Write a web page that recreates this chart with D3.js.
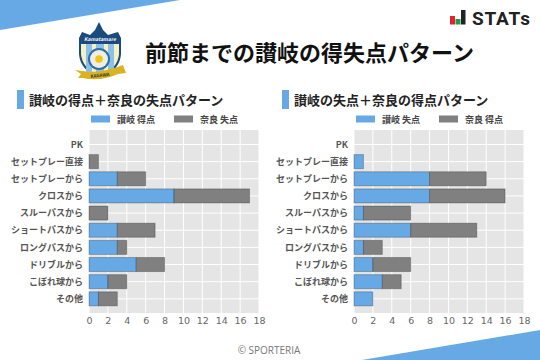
<!DOCTYPE html>
<html><head><meta charset="utf-8">
<script src="https://cdn.jsdelivr.net/npm/d3@7"></script>
<style>html,body{margin:0;padding:0;background:#fff}svg{display:block}text{font-family:"Noto Sans CJK JP","Noto Sans",sans-serif}</style>
</head><body><svg id="c" width="540" height="360"></svg>
<script>
const categories = ["PK","セットプレー直接","セットプレーから","クロスから","スルーパスから","ショートパスから","ロングパスから","ドリブルから","こぼれ球から","その他"];
const leftTitle = "讃岐の得点＋奈良の失点パターン";
const leftNames = ["讃岐 得点","奈良 失点"];
const leftBlue = [0,0,3,9,0,3,3,5,2,1];
const leftGray = [0,1,3,8,2,4,1,3,2,2];
const rightTitle = "讃岐の失点＋奈良の得点パターン";
const rightNames = ["讃岐 失点","奈良 得点"];
const rightBlue = [0,1,8,8,1,6,1,2,3,2];
const rightGray = [0,0,6,8,5,7,2,4,2,0];
const xTicks = [0,2,4,6,8,10,12,14,16,18];
const BLUE="#66a9e4", GRAY="#808080";
const svg=d3.select("#c");
svg.append("path").attr("d","M0,0L180,0L0,30Z").attr("fill",BLUE);
svg.append("path").attr("d","M540,330L540,360L362,360Z").attr("fill",BLUE);
svg.append("text").attr("x",145).attr("y",61).attr("font-size",22).attr("font-weight",700).attr("fill","#111").text("前節までの讃岐の得失点パターン");
// STATs logo
[[450,16,5,"#e0242c"],[455.5,19,5,"#1e9e4a"],[461,10,4.5,"#222"]].forEach(d=>svg.append("rect").attr("x",d[0]).attr("y",d[1]).attr("width",d[2]).attr("height",24.5-d[1]).attr("fill",d[3]));
svg.append("text").attr("x",472).attr("y",24.5).attr("font-size",19).attr("font-weight",700).attr("fill","#222").style("font-family","Roboto,sans-serif").attr("textLength",58).text("STATs");
// club crest
const g=svg.append("g");
g.append("path").attr("d","M79,38L82,32L90,35L95,30L99,22L103,30L108,35L118,32L121,38L121,54Q120,70 100,79Q80,70 79,54Z").attr("fill","#1b4a7c");
g.append("path").attr("d","M81,44L119,44L119,54Q118,68 100,77Q82,68 81,54Z").attr("fill","#f5f1c4");
[[86,6],[96,8],[108,6]].forEach(d=>g.append("rect").attr("x",d[0]).attr("y",44).attr("width",d[1]).attr("height",31).attr("fill","#8cc0e6"));
g.append("text").attr("x",100).attr("y",41).attr("text-anchor","middle").attr("font-size",5).attr("font-style","italic").attr("font-weight",700).attr("fill","#fff").text("Kamatamare");
g.append("circle").attr("cx",99).attr("cy",59).attr("r",11).attr("fill","#2e6ea6");
g.append("circle").attr("cx",99).attr("cy",59).attr("r",9).attr("fill","#efeee0");
g.append("circle").attr("cx",99).attr("cy",59).attr("r",3.8).attr("fill","#f2c318");
g.append("path").attr("d","M75,70L90,72Q105,72 123,65L126,73L118,74L110,77Q95,81 83,78L78,78L81,74Z").attr("fill","#d9b321");
g.append("text").attr("x",100).attr("y",77).attr("text-anchor","middle").attr("font-size",4.5).attr("font-weight",700).attr("fill","#333").attr("transform","rotate(-6 100 75)").text("KAGAWA");

function panel(x0,barX,title,names,blue,gray){
  const x=d3.scaleLinear().domain([0,18]).range([x0,x0+170]);
  const y=d3.scaleBand().domain(categories).range([135.9,307.4]).paddingInner(0.18).paddingOuter(0.09);
  const top=130,bottom=313;
  svg.append("rect").attr("x",barX).attr("y",90).attr("width",7).attr("height",19).attr("fill",BLUE);
  svg.append("text").attr("x",barX+12).attr("y",105).attr("font-size",13).attr("font-weight",700).attr("fill","#222").text(title);
  [0,1].forEach(i=>{
    const lx=x0+2+i*83;
    svg.append("rect").attr("x",lx).attr("y",115.5).attr("width",19).attr("height",7).attr("fill",i?GRAY:BLUE);
    svg.append("text").attr("x",lx+26).attr("y",123).attr("font-size",9).attr("font-weight",700).attr("fill","#444").text(names[i]);
  });
  svg.append("rect").attr("x",x0).attr("y",top).attr("width",170).attr("height",bottom-top).attr("fill","#e5e5e5");
  const gg=svg.append("g");
  gg.selectAll("line.v").data(xTicks).join("line").attr("x1",d=>x(d)).attr("x2",d=>x(d)).attr("y1",top).attr("y2",bottom).attr("stroke","#fff").attr("stroke-width",1);
  gg.selectAll("line.h").data(categories).join("line").attr("class","h").attr("x1",x0).attr("x2",x0+170).attr("y1",d=>y(d)+y.bandwidth()/2).attr("y2",d=>y(d)+y.bandwidth()/2).attr("stroke","#fff").attr("stroke-width",1);
  const st=(s,c)=>s.attr("fill",c).attr("stroke","#000").attr("stroke-opacity",.25).attr("stroke-width",1);
  categories.forEach((c,i)=>{
    if(blue[i]>0) st(svg.append("rect").attr("x",x(0)).attr("y",y(c)).attr("width",x(blue[i])-x(0)).attr("height",y.bandwidth()),BLUE);
    if(gray[i]>0) st(svg.append("rect").attr("x",x(blue[i])).attr("y",y(c)).attr("width",x(blue[i]+gray[i])-x(blue[i])).attr("height",y.bandwidth()),GRAY);
    svg.append("text").attr("x",x0-6).attr("y",y(c)+y.bandwidth()/2+3.2).attr("text-anchor","end").attr("font-size",9).attr("font-weight",700).attr("fill","#555").text(c);
  });
  const ax=svg.append("g").attr("transform",`translate(0,${bottom})`).call(d3.axisBottom(x).tickValues(xTicks).tickSize(0).tickPadding(4));
  ax.select(".domain").remove();
  ax.selectAll("text").attr("font-size",9.5).attr("fill","#666").style("font-family","'DejaVu Sans',sans-serif");
}
panel(89,17,leftTitle,leftNames,leftBlue,leftGray);
panel(354,282,rightTitle,rightNames,rightBlue,rightGray);
svg.append("text").attr("x",269).attr("y",354).attr("text-anchor","middle").attr("font-size",10).attr("fill","#777").style("font-family","'Open Sans',sans-serif").text("© SPORTERIA");
</script></body></html>
